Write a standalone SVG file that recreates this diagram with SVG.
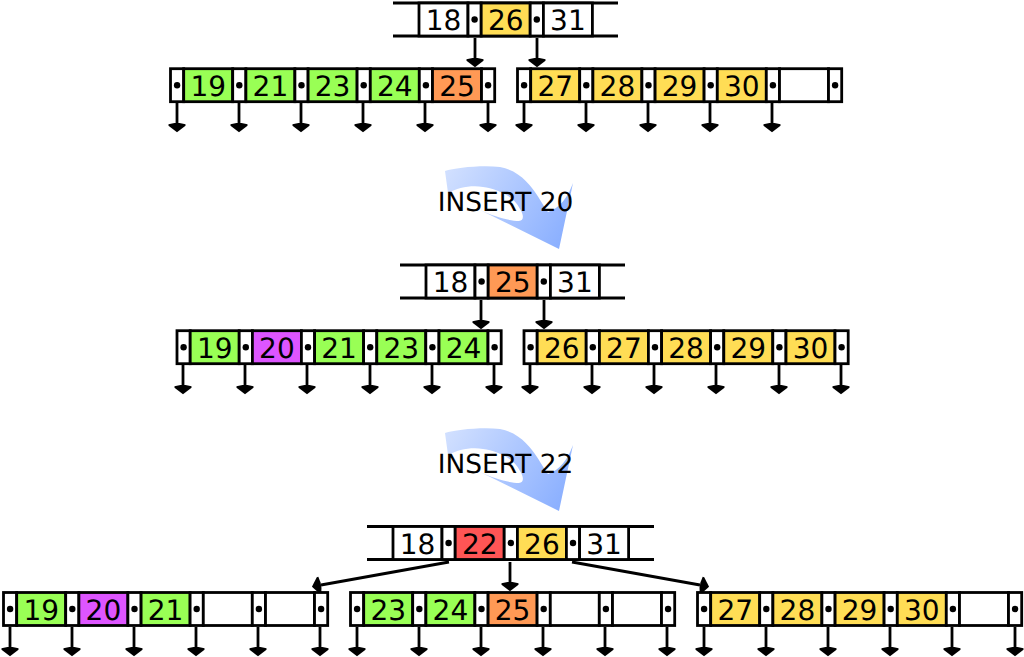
<svg xmlns="http://www.w3.org/2000/svg" xmlns:xlink="http://www.w3.org/1999/xlink" width="1024" height="657" viewBox="0 0 1024 657">
<style>
rect{stroke:#000;stroke-width:2.8;height:33px}
.w{fill:#fff}.g{fill:#9f5}.y{fill:#fd5}.o{fill:#f95}.p{fill:#d5f}.r{fill:#f55}
.b{stroke:#000;stroke-width:2.8;fill:none}
.c{stroke:#000;stroke-width:2.8;fill:none;marker-end:url(#ah)}
text{font-family:"DejaVu Sans",sans-serif;font-size:28px;text-anchor:middle;fill:#000;text-rendering:geometricPrecision}
text.i{font-size:26.4px}
.d{fill:#000;stroke:none}
</style>
<defs>
<marker id="ah" markerUnits="userSpaceOnUse" viewBox="-1 -10 12 20" refX="0" refY="0" markerWidth="12" markerHeight="20" orient="auto"><path d="M0,-2.500 L1.200,-8.500 L2.800,-8.500 L9.200,0 L2.800,8.500 L1.200,8.500 L0,2.500Z" fill="#000"/></marker>
<linearGradient id="bg" gradientUnits="userSpaceOnUse" x1="450" y1="170" x2="565" y2="240"><stop offset="0" stop-color="#d0dfff"/><stop offset="1" stop-color="#8aafff"/></linearGradient>
<path id="big" d="M445,171 C455,168 480,165 500,167 C520,171 530,185 537,195 C542,203 545,208 548,212 C560,208 568,197 573,183 L559,249 L480,210 C495,217 510,221 519,221 C524,221 524,215 520,209 C514,196 497,189 483,187 C470,185 458,188 448,193 Z"/>
<g id="cell"><rect class="w" width="13.200" height="33"/><circle class="d" cx="6.600" cy="16.500" r="3.200"/></g>
</defs>
<g id="arrow1"><use xlink:href="#big" href="#big" fill="url(#bg)"/><text class="i" x="505.500" y="211">INSERT 20</text></g>
<g id="arrow2" transform="translate(0,262)"><use xlink:href="#big" href="#big" fill="url(#bg)"/><text class="i" x="505.500" y="211">INSERT 22</text></g>

<g id="connectors">
<path class="c" d="M475,38V58"/><path class="c" d="M537,38V58"/>
<path class="c" d="M177,103V123"/><path class="c" d="M239,103V123"/><path class="c" d="M301,103V123"/><path class="c" d="M363,103V123"/><path class="c" d="M425,103V123"/><path class="c" d="M488,103V123"/>
<path class="c" d="M524,103V123"/><path class="c" d="M586,103V123"/><path class="c" d="M648,103V123"/><path class="c" d="M710,103V123"/><path class="c" d="M772,103V123"/>
<path class="c" d="M481,300V320"/><path class="c" d="M544,300V320"/>
<path class="c" d="M183,365V385"/><path class="c" d="M245,365V385"/><path class="c" d="M307,365V385"/><path class="c" d="M370,365V385"/><path class="c" d="M432,365V385"/><path class="c" d="M494,365V385"/>
<path class="c" d="M530,365V385"/><path class="c" d="M592,365V385"/><path class="c" d="M654,365V385"/><path class="c" d="M716,365V385"/><path class="c" d="M779,365V385"/><path class="c" d="M841,365V385"/>
<path class="c" d="M449,562L321,585"/><path class="c" d="M510,562V582"/><path class="c" d="M572,562L700,585"/>
<path class="c" d="M10,627V647"/><path class="c" d="M72,627V647"/><path class="c" d="M134,627V647"/><path class="c" d="M196,627V647"/><path class="c" d="M258,627V647"/><path class="c" d="M320,627V647"/>
<path class="c" d="M357,627V647"/><path class="c" d="M419,627V647"/><path class="c" d="M481,627V647"/><path class="c" d="M543,627V647"/><path class="c" d="M605,627V647"/><path class="c" d="M667,627V647"/>
<path class="c" d="M704,627V647"/><path class="c" d="M766,627V647"/><path class="c" d="M828,627V647"/><path class="c" d="M890,627V647"/><path class="c" d="M952,627V647"/><path class="c" d="M1015,627V647"/>
</g>

<g id="root1" transform="translate(393,3)">
<path class="b" d="M0,0H225M0,33H225"/>
<rect class="w" x="26" width="49" height="33"/><text x="50.500" y="27">18</text>
<use href="#cell" xlink:href="#cell" x="75"/>
<rect class="y" x="88.200" width="49" height="33"/><text x="112.700" y="27">26</text>
<use href="#cell" xlink:href="#cell" x="137.200"/>
<rect class="w" x="150.400" width="49" height="33"/><text x="174.900" y="27">31</text>
</g>

<g id="leaf1a" transform="translate(170.500,68.700)">
<use href="#cell" xlink:href="#cell" x="0"/><rect class="g" x="13.200" width="49" height="33"/><text x="37.700" y="27">19</text>
<use href="#cell" xlink:href="#cell" x="62.200"/><rect class="g" x="75.400" width="49" height="33"/><text x="99.900" y="27">21</text>
<use href="#cell" xlink:href="#cell" x="124.400"/><rect class="g" x="137.600" width="49" height="33"/><text x="162.100" y="27">23</text>
<use href="#cell" xlink:href="#cell" x="186.600"/><rect class="g" x="199.800" width="49" height="33"/><text x="224.300" y="27">24</text>
<use href="#cell" xlink:href="#cell" x="248.800"/><rect class="o" x="262" width="49" height="33"/><text x="286.500" y="27">25</text>
<use href="#cell" xlink:href="#cell" x="311"/>
</g>
<g id="leaf1b" transform="translate(517.500,68.700)">
<use href="#cell" xlink:href="#cell" x="0"/><rect class="y" x="13.200" width="49" height="33"/><text x="37.700" y="27">27</text>
<use href="#cell" xlink:href="#cell" x="62.200"/><rect class="y" x="75.400" width="49" height="33"/><text x="99.900" y="27">28</text>
<use href="#cell" xlink:href="#cell" x="124.400"/><rect class="y" x="137.600" width="49" height="33"/><text x="162.100" y="27">29</text>
<use href="#cell" xlink:href="#cell" x="186.600"/><rect class="y" x="199.800" width="49" height="33"/><text x="224.300" y="27">30</text>
<use href="#cell" xlink:href="#cell" x="248.800"/><rect class="w" x="262" width="49" height="33"/>
<use href="#cell" xlink:href="#cell" x="311"/>
</g>

<g id="root2" transform="translate(400,265)">
<path class="b" d="M0,0H225M0,33H225"/>
<rect class="w" x="26" width="49" height="33"/><text x="50.500" y="27">18</text>
<use href="#cell" xlink:href="#cell" x="75"/>
<rect class="o" x="88.200" width="49" height="33"/><text x="112.700" y="27">25</text>
<use href="#cell" xlink:href="#cell" x="137.200"/>
<rect class="w" x="150.400" width="49" height="33"/><text x="174.900" y="27">31</text>
</g>
<g id="leaf2a" transform="translate(177,330.700)">
<use href="#cell" xlink:href="#cell" x="0"/><rect class="g" x="13.200" width="49" height="33"/><text x="37.700" y="27">19</text>
<use href="#cell" xlink:href="#cell" x="62.200"/><rect class="p" x="75.400" width="49" height="33"/><text x="99.900" y="27">20</text>
<use href="#cell" xlink:href="#cell" x="124.400"/><rect class="g" x="137.600" width="49" height="33"/><text x="162.100" y="27">21</text>
<use href="#cell" xlink:href="#cell" x="186.600"/><rect class="g" x="199.800" width="49" height="33"/><text x="224.300" y="27">23</text>
<use href="#cell" xlink:href="#cell" x="248.800"/><rect class="g" x="262" width="49" height="33"/><text x="286.500" y="27">24</text>
<use href="#cell" xlink:href="#cell" x="311"/>
</g>
<g id="leaf2b" transform="translate(524,330.700)">
<use href="#cell" xlink:href="#cell" x="0"/><rect class="y" x="13.200" width="49" height="33"/><text x="37.700" y="27">26</text>
<use href="#cell" xlink:href="#cell" x="62.200"/><rect class="y" x="75.400" width="49" height="33"/><text x="99.900" y="27">27</text>
<use href="#cell" xlink:href="#cell" x="124.400"/><rect class="y" x="137.600" width="49" height="33"/><text x="162.100" y="27">28</text>
<use href="#cell" xlink:href="#cell" x="186.600"/><rect class="y" x="199.800" width="49" height="33"/><text x="224.300" y="27">29</text>
<use href="#cell" xlink:href="#cell" x="248.800"/><rect class="y" x="262" width="49" height="33"/><text x="286.500" y="27">30</text>
<use href="#cell" xlink:href="#cell" x="311"/>
</g>

<g id="root3" transform="translate(367,526.500)">
<path class="b" d="M0,0H287M0,33H287"/>
<rect class="w" x="26" width="49" height="33"/><text x="50.500" y="27">18</text>
<use href="#cell" xlink:href="#cell" x="75"/>
<rect class="r" x="88.200" width="49" height="33"/><text x="112.700" y="27">22</text>
<use href="#cell" xlink:href="#cell" x="137.200"/>
<rect class="y" x="150.400" width="49" height="33"/><text x="174.900" y="27">26</text>
<use href="#cell" xlink:href="#cell" x="199.400"/>
<rect class="w" x="212.600" width="49" height="33"/><text x="237.100" y="27">31</text>
</g>
<g id="leaf3a" transform="translate(3.500,592.500)">
<use href="#cell" xlink:href="#cell" x="0"/><rect class="g" x="13.200" width="49" height="33"/><text x="37.700" y="27">19</text>
<use href="#cell" xlink:href="#cell" x="62.200"/><rect class="p" x="75.400" width="49" height="33"/><text x="99.900" y="27">20</text>
<use href="#cell" xlink:href="#cell" x="124.400"/><rect class="g" x="137.600" width="49" height="33"/><text x="162.100" y="27">21</text>
<use href="#cell" xlink:href="#cell" x="186.600"/><rect class="w" x="199.800" width="49" height="33"/>
<use href="#cell" xlink:href="#cell" x="248.800"/><rect class="w" x="262" width="49" height="33"/>
<use href="#cell" xlink:href="#cell" x="311"/>
</g>
<g id="leaf3b" transform="translate(350.500,592.500)">
<use href="#cell" xlink:href="#cell" x="0"/><rect class="g" x="13.200" width="49" height="33"/><text x="37.700" y="27">23</text>
<use href="#cell" xlink:href="#cell" x="62.200"/><rect class="g" x="75.400" width="49" height="33"/><text x="99.900" y="27">24</text>
<use href="#cell" xlink:href="#cell" x="124.400"/><rect class="o" x="137.600" width="49" height="33"/><text x="162.100" y="27">25</text>
<use href="#cell" xlink:href="#cell" x="186.600"/><rect class="w" x="199.800" width="49" height="33"/>
<use href="#cell" xlink:href="#cell" x="248.800"/><rect class="w" x="262" width="49" height="33"/>
<use href="#cell" xlink:href="#cell" x="311"/>
</g>
<g id="leaf3c" transform="translate(697.500,592.500)">
<use href="#cell" xlink:href="#cell" x="0"/><rect class="y" x="13.200" width="49" height="33"/><text x="37.700" y="27">27</text>
<use href="#cell" xlink:href="#cell" x="62.200"/><rect class="y" x="75.400" width="49" height="33"/><text x="99.900" y="27">28</text>
<use href="#cell" xlink:href="#cell" x="124.400"/><rect class="y" x="137.600" width="49" height="33"/><text x="162.100" y="27">29</text>
<use href="#cell" xlink:href="#cell" x="186.600"/><rect class="y" x="199.800" width="49" height="33"/><text x="224.300" y="27">30</text>
<use href="#cell" xlink:href="#cell" x="248.800"/><rect class="w" x="262" width="49" height="33"/>
<use href="#cell" xlink:href="#cell" x="311"/>
</g>
</svg>
